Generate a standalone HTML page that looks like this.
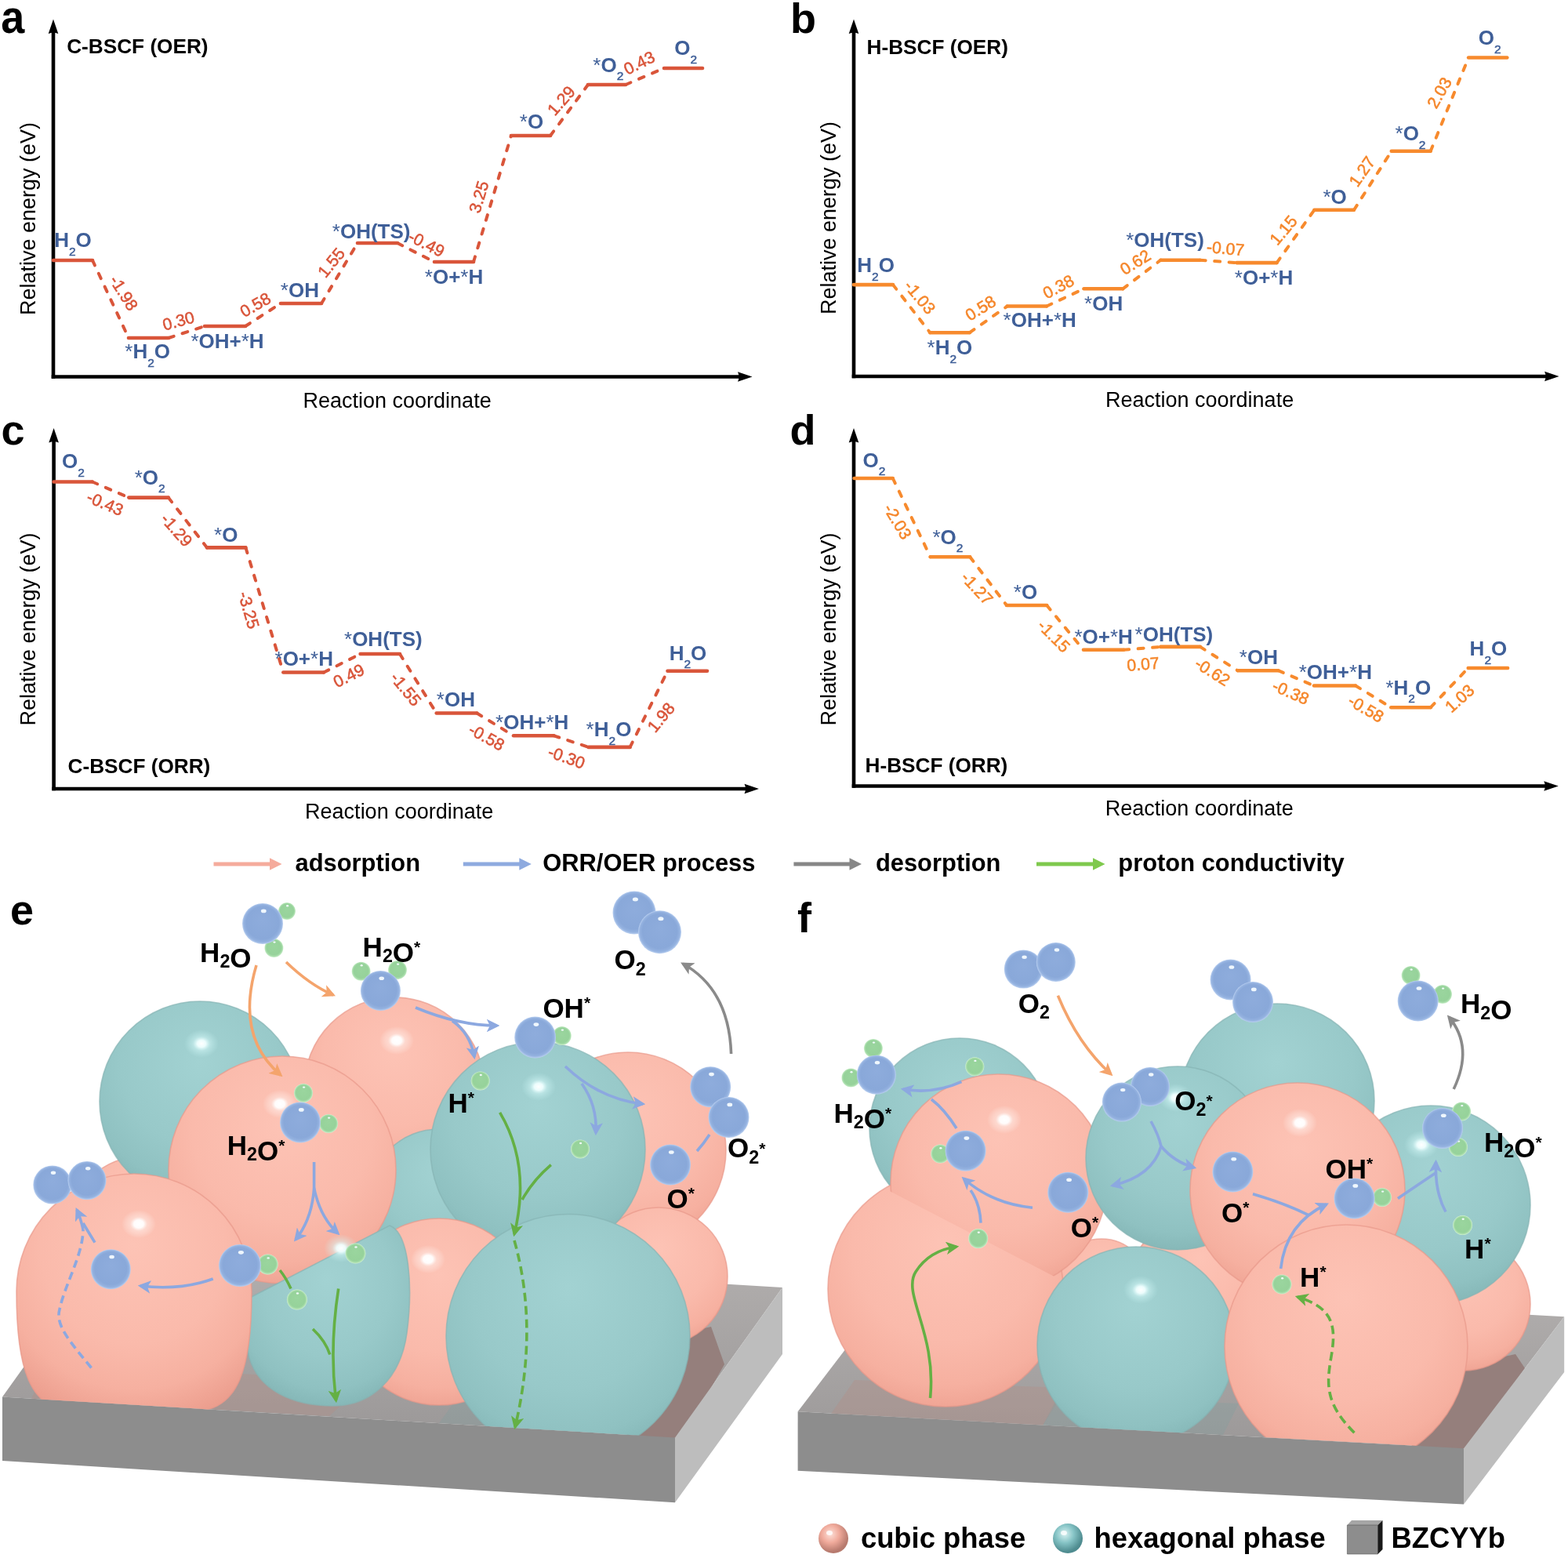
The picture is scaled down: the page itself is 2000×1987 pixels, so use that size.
<!DOCTYPE html>
<html><head><meta charset="utf-8"><title>Figure</title>
<style>html,body{margin:0;padding:0;background:#fff;overflow:hidden;} svg{display:block;}</style>
</head><body>
<svg width="2000" height="1987" viewBox="0 0 2000 1987" font-family="'Liberation Sans', Arial, Helvetica, sans-serif">
<defs>
<radialGradient id="gP" cx="0.5" cy="0.34" r="0.72" fx="0.5" fy="0.3">
  <stop offset="0" stop-color="#fdc3b5"/>
  <stop offset="0.55" stop-color="#fabaab"/>
  <stop offset="0.8" stop-color="#f6b0a0"/>
  <stop offset="1" stop-color="#ec9e8e"/>
</radialGradient>
<radialGradient id="gT" cx="0.5" cy="0.34" r="0.72" fx="0.5" fy="0.3">
  <stop offset="0" stop-color="#a2d2d2"/>
  <stop offset="0.55" stop-color="#98c9c9"/>
  <stop offset="0.8" stop-color="#8fc1c1"/>
  <stop offset="1" stop-color="#80b2b2"/>
</radialGradient>
<radialGradient id="gB" cx="0.5" cy="0.5" r="0.5" fx="0.5" fy="0.4">
  <stop offset="0" stop-color="#8eacdc"/>
  <stop offset="0.8" stop-color="#89a8d9"/>
  <stop offset="0.92" stop-color="#94b2e0"/>
  <stop offset="1" stop-color="#b9cff0"/>
</radialGradient>
<radialGradient id="gG" cx="0.5" cy="0.5" r="0.5" fx="0.5" fy="0.4">
  <stop offset="0" stop-color="#9ad59e"/>
  <stop offset="0.78" stop-color="#96d29a"/>
  <stop offset="0.92" stop-color="#aee0b0"/>
  <stop offset="1" stop-color="#d2f2d2"/>
</radialGradient>
<radialGradient id="gH" cx="0.5" cy="0.5" r="0.5">
  <stop offset="0" stop-color="#ffffff" stop-opacity="1"/>
  <stop offset="0.28" stop-color="#ffffff" stop-opacity="0.95"/>
  <stop offset="0.5" stop-color="#fff4f0" stop-opacity="0.45"/>
  <stop offset="1" stop-color="#ffffff" stop-opacity="0"/>
</radialGradient>
<radialGradient id="gHT" cx="0.5" cy="0.5" r="0.5">
  <stop offset="0" stop-color="#ffffff" stop-opacity="1"/>
  <stop offset="0.25" stop-color="#f0ffff" stop-opacity="0.95"/>
  <stop offset="0.5" stop-color="#d8fafa" stop-opacity="0.45"/>
  <stop offset="1" stop-color="#c8f4f4" stop-opacity="0"/>
</radialGradient>
<radialGradient id="gLP" cx="0.4" cy="0.35" r="0.6">
  <stop offset="0" stop-color="#fde0d8"/>
  <stop offset="0.5" stop-color="#f0aa9b"/>
  <stop offset="1" stop-color="#b77a6e"/>
</radialGradient>
<radialGradient id="gLT" cx="0.4" cy="0.35" r="0.6">
  <stop offset="0" stop-color="#d8f2f2"/>
  <stop offset="0.5" stop-color="#86c4c6"/>
  <stop offset="1" stop-color="#4f8c90"/>
</radialGradient>
<linearGradient id="gTopE" x1="0" y1="0" x2="0" y2="1">
  <stop offset="0" stop-color="#b3b0af"/>
  <stop offset="1" stop-color="#9b9898"/>
</linearGradient>
<marker id="mB" viewBox="0 0 10 10" refX="8" refY="5" markerWidth="4.6" markerHeight="4.6" orient="auto" markerUnits="strokeWidth"><path d="M0,0 L10,5 L0,10 L2.5,5Z" fill="#8ca8e0"/></marker>
<marker id="mO" viewBox="0 0 10 10" refX="8" refY="5" markerWidth="4.6" markerHeight="4.6" orient="auto" markerUnits="strokeWidth"><path d="M0,0 L10,5 L0,10 L2.5,5Z" fill="#f4a46c"/></marker>
<marker id="mG" viewBox="0 0 10 10" refX="8" refY="5" markerWidth="4.6" markerHeight="4.6" orient="auto" markerUnits="strokeWidth"><path d="M0,0 L10,5 L0,10 L2.5,5Z" fill="#64b044"/></marker>
<marker id="mY" viewBox="0 0 10 10" refX="8" refY="5" markerWidth="4.6" markerHeight="4.6" orient="auto" markerUnits="strokeWidth"><path d="M0,0 L10,5 L0,10 L2.5,5Z" fill="#8a8a8a"/></marker>
<clipPath id="clipE"><path d="M0,1100 L1000,1100 L1000,1841.8 L0,1781.4Z"/></clipPath>
<clipPath id="clipF"><path d="M1000,1100 L2000,1100 L2000,1854.5 L1000,1799.3Z"/></clipPath>
<clipPath id="clipE5"><path d="M250,1700 L317,1656 L497,1563 L560,1530 L560,1850 L250,1850Z"/></clipPath>
<clipPath id="clipF3"><path d="M1100,1300 L1450,1300 L1450,1660 L1355.8,1633.7 L1136.6,1520 L1100,1500Z"/></clipPath>
</defs>
<rect width="2000" height="1987" fill="#ffffff"/>
<line x1="68" y1="482.8" x2="68" y2="38.6" stroke="#000" stroke-width="4.6"/>
<path d="M61.7,43.1 L68,24.6 L74.3,43.1 Q68,40.1 61.7,43.1Z" fill="#000"/>
<line x1="65.7" y1="480.5" x2="945.5" y2="480.5" stroke="#000" stroke-width="4.6"/>
<path d="M941.0,474.2 L959.5,480.5 L941.0,486.8 Q944.0,480.5 941.0,474.2Z" fill="#000"/>
<line x1="1089" y1="482.3" x2="1089" y2="38.6" stroke="#000" stroke-width="4.6"/>
<path d="M1082.7,43.1 L1089,24.6 L1095.3,43.1 Q1089,40.1 1082.7,43.1Z" fill="#000"/>
<line x1="1086.7" y1="480" x2="1974.6" y2="480" stroke="#000" stroke-width="4.6"/>
<path d="M1970.1,473.7 L1988.6,480 L1970.1,486.3 Q1973.1,480 1970.1,473.7Z" fill="#000"/>
<line x1="68.6" y1="1008.3" x2="68.6" y2="559.9" stroke="#000" stroke-width="4.6"/>
<path d="M62.3,564.4 L68.6,545.9 L74.89999999999999,564.4 Q68.6,561.4 62.3,564.4Z" fill="#000"/>
<line x1="66.3" y1="1006" x2="954" y2="1006" stroke="#000" stroke-width="4.6"/>
<path d="M949.5,999.7 L968,1006 L949.5,1012.3 Q952.5,1006 949.5,999.7Z" fill="#000"/>
<line x1="1089" y1="1004.8" x2="1089" y2="559.9" stroke="#000" stroke-width="4.6"/>
<path d="M1082.7,564.4 L1089,545.9 L1095.3,564.4 Q1089,561.4 1082.7,564.4Z" fill="#000"/>
<line x1="1086.7" y1="1002.5" x2="1973.8" y2="1002.5" stroke="#000" stroke-width="4.6"/>
<path d="M1969.3,996.2 L1987.8,1002.5 L1969.3,1008.8 Q1972.3,1002.5 1969.3,996.2Z" fill="#000"/>
<line x1="68.0" y1="332.0" x2="118.0" y2="332.0" stroke="#d9553a" stroke-width="4.6" stroke-linecap="round"/>
<line x1="118.0" y1="332.0" x2="164.0" y2="431.0" stroke="#d9553a" stroke-width="4" stroke-dasharray="7 11.5" stroke-linecap="round"/>
<line x1="164.0" y1="431.0" x2="215.0" y2="431.0" stroke="#d9553a" stroke-width="4.6" stroke-linecap="round"/>
<line x1="215.0" y1="431.0" x2="261.0" y2="416.0" stroke="#d9553a" stroke-width="4" stroke-dasharray="7 11.5" stroke-linecap="round"/>
<line x1="261.0" y1="416.0" x2="313.0" y2="416.0" stroke="#d9553a" stroke-width="4.6" stroke-linecap="round"/>
<line x1="313.0" y1="416.0" x2="358.0" y2="387.0" stroke="#d9553a" stroke-width="4" stroke-dasharray="7 11.5" stroke-linecap="round"/>
<line x1="358.0" y1="387.0" x2="410.0" y2="387.0" stroke="#d9553a" stroke-width="4.6" stroke-linecap="round"/>
<line x1="410.0" y1="387.0" x2="456.0" y2="310.0" stroke="#d9553a" stroke-width="4" stroke-dasharray="7 11.5" stroke-linecap="round"/>
<line x1="456.0" y1="310.0" x2="507.0" y2="310.0" stroke="#d9553a" stroke-width="4.6" stroke-linecap="round"/>
<line x1="507.0" y1="310.0" x2="554.0" y2="334.0" stroke="#d9553a" stroke-width="4" stroke-dasharray="7 11.5" stroke-linecap="round"/>
<line x1="554.0" y1="334.0" x2="604.0" y2="334.0" stroke="#d9553a" stroke-width="4.6" stroke-linecap="round"/>
<line x1="604.0" y1="334.0" x2="652.0" y2="173.0" stroke="#d9553a" stroke-width="4" stroke-dasharray="7 11.5" stroke-linecap="round"/>
<line x1="652.0" y1="173.0" x2="702.0" y2="173.0" stroke="#d9553a" stroke-width="4.6" stroke-linecap="round"/>
<line x1="702.0" y1="173.0" x2="750.0" y2="108.0" stroke="#d9553a" stroke-width="4" stroke-dasharray="7 11.5" stroke-linecap="round"/>
<line x1="750.0" y1="108.0" x2="798.0" y2="108.0" stroke="#d9553a" stroke-width="4.6" stroke-linecap="round"/>
<line x1="798.0" y1="108.0" x2="847.0" y2="87.0" stroke="#d9553a" stroke-width="4" stroke-dasharray="7 11.5" stroke-linecap="round"/>
<line x1="847.0" y1="87.0" x2="896.0" y2="87.0" stroke="#d9553a" stroke-width="4.6" stroke-linecap="round"/>
<text x="69.2" y="315.0" font-size="26" font-weight="bold" fill="#3f5f98">H<tspan font-size="15.5" font-weight="normal" stroke="#3f5f98" stroke-width="0.5" dy="10.5">2</tspan><tspan dy="-10.5">O</tspan></text>
<text x="159.3" y="457.3" font-size="26" font-weight="bold" fill="#3f5f98"><tspan font-weight="normal">*</tspan>H<tspan font-size="15.5" font-weight="normal" stroke="#3f5f98" stroke-width="0.5" dy="10.5">2</tspan><tspan dy="-10.5">O</tspan></text>
<text x="243.4" y="443.6" font-size="26" font-weight="bold" fill="#3f5f98"><tspan font-weight="normal">*</tspan>OH+<tspan font-weight="normal">*</tspan>H</text>
<text x="357.8" y="378.8" font-size="26" font-weight="bold" fill="#3f5f98"><tspan font-weight="normal">*</tspan>OH</text>
<text x="423.8" y="303.5" font-size="26" font-weight="bold" fill="#3f5f98"><tspan font-weight="normal">*</tspan>OH(TS)</text>
<text x="541.8" y="361.8" font-size="26" font-weight="bold" fill="#3f5f98"><tspan font-weight="normal">*</tspan>O+<tspan font-weight="normal">*</tspan>H</text>
<text x="662.8" y="164.4" font-size="26" font-weight="bold" fill="#3f5f98"><tspan font-weight="normal">*</tspan>O</text>
<text x="756.3" y="91.8" font-size="26" font-weight="bold" fill="#3f5f98"><tspan font-weight="normal">*</tspan>O<tspan font-size="15.5" font-weight="normal" stroke="#3f5f98" stroke-width="0.5" dy="10.5">2</tspan></text>
<text x="860.3" y="70.2" font-size="26" font-weight="bold" fill="#3f5f98">O<tspan font-size="15.5" font-weight="normal" stroke="#3f5f98" stroke-width="0.5" dy="10.5">2</tspan></text>
<text class="en" transform="translate(158.1,373.4) rotate(57.5)" text-anchor="middle" dy="7.6" font-size="21.2" fill="#d9553a" stroke="#d9553a" stroke-width="0.55">-1.98</text>
<text class="en" transform="translate(227.5,409.0) rotate(-15.4)" text-anchor="middle" dy="7.6" font-size="21.2" fill="#d9553a" stroke="#d9553a" stroke-width="0.55">0.30</text>
<text class="en" transform="translate(325.6,388.5) rotate(-29.7)" text-anchor="middle" dy="7.6" font-size="21.2" fill="#d9553a" stroke="#d9553a" stroke-width="0.55">0.58</text>
<text class="en" transform="translate(422.3,334.7) rotate(-51)" text-anchor="middle" dy="7.6" font-size="21.2" fill="#d9553a" stroke="#d9553a" stroke-width="0.55">1.55</text>
<text class="en" transform="translate(544.2,310.6) rotate(27)" text-anchor="middle" dy="7.6" font-size="21.2" fill="#d9553a" stroke="#d9553a" stroke-width="0.55">-0.49</text>
<text class="en" transform="translate(610.5,251.0) rotate(-73)" text-anchor="middle" dy="7.6" font-size="21.2" fill="#d9553a" stroke="#d9553a" stroke-width="0.55">3.25</text>
<text class="en" transform="translate(715.6,128.2) rotate(-49)" text-anchor="middle" dy="7.6" font-size="21.2" fill="#d9553a" stroke="#d9553a" stroke-width="0.55">1.29</text>
<text class="en" transform="translate(815.3,80.0) rotate(-26.6)" text-anchor="middle" dy="7.6" font-size="21.2" fill="#d9553a" stroke="#d9553a" stroke-width="0.55">0.43</text>
<line x1="1089.0" y1="363.1" x2="1139.0" y2="363.1" stroke="#f78a2d" stroke-width="4.6" stroke-linecap="round"/>
<line x1="1139.0" y1="363.1" x2="1186.3" y2="424.2" stroke="#f78a2d" stroke-width="4" stroke-dasharray="7 11.5" stroke-linecap="round"/>
<line x1="1186.3" y1="424.2" x2="1236.8" y2="424.2" stroke="#f78a2d" stroke-width="4.6" stroke-linecap="round"/>
<line x1="1236.8" y1="424.2" x2="1284.7" y2="390.5" stroke="#f78a2d" stroke-width="4" stroke-dasharray="7 11.5" stroke-linecap="round"/>
<line x1="1284.7" y1="390.5" x2="1335.0" y2="390.5" stroke="#f78a2d" stroke-width="4.6" stroke-linecap="round"/>
<line x1="1335.0" y1="390.5" x2="1382.5" y2="368.3" stroke="#f78a2d" stroke-width="4" stroke-dasharray="7 11.5" stroke-linecap="round"/>
<line x1="1382.5" y1="368.3" x2="1432.2" y2="368.3" stroke="#f78a2d" stroke-width="4.6" stroke-linecap="round"/>
<line x1="1432.2" y1="368.3" x2="1480.5" y2="331.7" stroke="#f78a2d" stroke-width="4" stroke-dasharray="7 11.5" stroke-linecap="round"/>
<line x1="1480.5" y1="331.7" x2="1530.7" y2="331.7" stroke="#f78a2d" stroke-width="4.6" stroke-linecap="round"/>
<line x1="1530.7" y1="331.7" x2="1577.3" y2="335.1" stroke="#f78a2d" stroke-width="4" stroke-dasharray="7 11.5" stroke-linecap="round"/>
<line x1="1577.3" y1="335.1" x2="1628.6" y2="335.1" stroke="#f78a2d" stroke-width="4.6" stroke-linecap="round"/>
<line x1="1628.6" y1="335.1" x2="1676.4" y2="267.8" stroke="#f78a2d" stroke-width="4" stroke-dasharray="7 11.5" stroke-linecap="round"/>
<line x1="1676.4" y1="267.8" x2="1727.0" y2="267.8" stroke="#f78a2d" stroke-width="4.6" stroke-linecap="round"/>
<line x1="1727.0" y1="267.8" x2="1774.8" y2="192.8" stroke="#f78a2d" stroke-width="4" stroke-dasharray="7 11.5" stroke-linecap="round"/>
<line x1="1774.8" y1="192.8" x2="1824.7" y2="192.8" stroke="#f78a2d" stroke-width="4.6" stroke-linecap="round"/>
<line x1="1824.7" y1="192.8" x2="1873.1" y2="73.5" stroke="#f78a2d" stroke-width="4" stroke-dasharray="7 11.5" stroke-linecap="round"/>
<line x1="1873.1" y1="73.5" x2="1922.3" y2="73.5" stroke="#f78a2d" stroke-width="4.6" stroke-linecap="round"/>
<text x="1093.3" y="347.1" font-size="26" font-weight="bold" fill="#3f5f98">H<tspan font-size="15.5" font-weight="normal" stroke="#3f5f98" stroke-width="0.5" dy="10.5">2</tspan><tspan dy="-10.5">O</tspan></text>
<text x="1182.5" y="452.1" font-size="26" font-weight="bold" fill="#3f5f98"><tspan font-weight="normal">*</tspan>H<tspan font-size="15.5" font-weight="normal" stroke="#3f5f98" stroke-width="0.5" dy="10.5">2</tspan><tspan dy="-10.5">O</tspan></text>
<text x="1279.6" y="417.2" font-size="26" font-weight="bold" fill="#3f5f98"><tspan font-weight="normal">*</tspan>OH+<tspan font-weight="normal">*</tspan>H</text>
<text x="1383.1" y="395.8" font-size="26" font-weight="bold" fill="#3f5f98"><tspan font-weight="normal">*</tspan>OH</text>
<text x="1436.2" y="315.0" font-size="26" font-weight="bold" fill="#3f5f98"><tspan font-weight="normal">*</tspan>OH(TS)</text>
<text x="1574.8" y="362.5" font-size="26" font-weight="bold" fill="#3f5f98"><tspan font-weight="normal">*</tspan>O+<tspan font-weight="normal">*</tspan>H</text>
<text x="1687.4" y="259.8" font-size="26" font-weight="bold" fill="#3f5f98"><tspan font-weight="normal">*</tspan>O</text>
<text x="1779.5" y="179.4" font-size="26" font-weight="bold" fill="#3f5f98"><tspan font-weight="normal">*</tspan>O<tspan font-size="15.5" font-weight="normal" stroke="#3f5f98" stroke-width="0.5" dy="10.5">2</tspan></text>
<text x="1885.7" y="57.2" font-size="26" font-weight="bold" fill="#3f5f98">O<tspan font-size="15.5" font-weight="normal" stroke="#3f5f98" stroke-width="0.5" dy="10.5">2</tspan></text>
<text class="en" transform="translate(1173.5,378.9) rotate(49.8)" text-anchor="middle" dy="7.6" font-size="21.2" fill="#f5872c" stroke="#f5872c" stroke-width="0.55">-1.03</text>
<text class="en" transform="translate(1250.6,392.6) rotate(-31.6)" text-anchor="middle" dy="7.6" font-size="21.2" fill="#f5872c" stroke="#f5872c" stroke-width="0.55">0.58</text>
<text class="en" transform="translate(1349.8,365.4) rotate(-27.4)" text-anchor="middle" dy="7.6" font-size="21.2" fill="#f5872c" stroke="#f5872c" stroke-width="0.55">0.38</text>
<text class="en" transform="translate(1447.9,334.2) rotate(-32)" text-anchor="middle" dy="7.6" font-size="21.2" fill="#f5872c" stroke="#f5872c" stroke-width="0.55">0.62</text>
<text class="en" transform="translate(1563.2,316.5) rotate(5)" text-anchor="middle" dy="7.6" font-size="21.2" fill="#f5872c" stroke="#f5872c" stroke-width="0.55">-0.07</text>
<text class="en" transform="translate(1636.8,293.4) rotate(-50)" text-anchor="middle" dy="7.6" font-size="21.2" fill="#f5872c" stroke="#f5872c" stroke-width="0.55">1.15</text>
<text class="en" transform="translate(1737.0,218.5) rotate(-55)" text-anchor="middle" dy="7.6" font-size="21.2" fill="#f5872c" stroke="#f5872c" stroke-width="0.55">1.27</text>
<text class="en" transform="translate(1835.7,118.1) rotate(-60)" text-anchor="middle" dy="7.6" font-size="21.2" fill="#f5872c" stroke="#f5872c" stroke-width="0.55">2.03</text>
<line x1="68.6" y1="614.5" x2="117.8" y2="614.5" stroke="#d9553a" stroke-width="4.6" stroke-linecap="round"/>
<line x1="117.8" y1="614.5" x2="164.3" y2="634.6" stroke="#d9553a" stroke-width="4" stroke-dasharray="7 11.5" stroke-linecap="round"/>
<line x1="164.3" y1="634.6" x2="214.8" y2="634.6" stroke="#d9553a" stroke-width="4.6" stroke-linecap="round"/>
<line x1="214.8" y1="634.6" x2="264.0" y2="698.4" stroke="#d9553a" stroke-width="4" stroke-dasharray="7 11.5" stroke-linecap="round"/>
<line x1="264.0" y1="698.4" x2="313.4" y2="698.4" stroke="#d9553a" stroke-width="4.6" stroke-linecap="round"/>
<line x1="313.4" y1="698.4" x2="361.3" y2="857.5" stroke="#d9553a" stroke-width="4" stroke-dasharray="7 11.5" stroke-linecap="round"/>
<line x1="361.3" y1="857.5" x2="413.0" y2="857.5" stroke="#d9553a" stroke-width="4.6" stroke-linecap="round"/>
<line x1="413.0" y1="857.5" x2="459.6" y2="834.0" stroke="#d9553a" stroke-width="4" stroke-dasharray="7 11.5" stroke-linecap="round"/>
<line x1="459.6" y1="834.0" x2="510.0" y2="834.0" stroke="#d9553a" stroke-width="4.6" stroke-linecap="round"/>
<line x1="510.0" y1="834.0" x2="556.7" y2="909.5" stroke="#d9553a" stroke-width="4" stroke-dasharray="7 11.5" stroke-linecap="round"/>
<line x1="556.7" y1="909.5" x2="608.3" y2="909.5" stroke="#d9553a" stroke-width="4.6" stroke-linecap="round"/>
<line x1="608.3" y1="909.5" x2="655.0" y2="938.3" stroke="#d9553a" stroke-width="4" stroke-dasharray="7 11.5" stroke-linecap="round"/>
<line x1="655.0" y1="938.3" x2="706.6" y2="938.3" stroke="#d9553a" stroke-width="4.6" stroke-linecap="round"/>
<line x1="706.6" y1="938.3" x2="750.6" y2="952.9" stroke="#d9553a" stroke-width="4" stroke-dasharray="7 11.5" stroke-linecap="round"/>
<line x1="750.6" y1="952.9" x2="803.6" y2="952.9" stroke="#d9553a" stroke-width="4.6" stroke-linecap="round"/>
<line x1="803.6" y1="952.9" x2="851.5" y2="855.8" stroke="#d9553a" stroke-width="4" stroke-dasharray="7 11.5" stroke-linecap="round"/>
<line x1="851.5" y1="855.8" x2="902.0" y2="855.8" stroke="#d9553a" stroke-width="4.6" stroke-linecap="round"/>
<text x="79.0" y="597.1" font-size="26" font-weight="bold" fill="#3f5f98">O<tspan font-size="15.5" font-weight="normal" stroke="#3f5f98" stroke-width="0.5" dy="10.5">2</tspan></text>
<text x="171.7" y="617.8" font-size="26" font-weight="bold" fill="#3f5f98"><tspan font-weight="normal">*</tspan>O<tspan font-size="15.5" font-weight="normal" stroke="#3f5f98" stroke-width="0.5" dy="10.5">2</tspan></text>
<text x="273.1" y="691.1" font-size="26" font-weight="bold" fill="#3f5f98"><tspan font-weight="normal">*</tspan>O</text>
<text x="350.5" y="848.5" font-size="26" font-weight="bold" fill="#3f5f98"><tspan font-weight="normal">*</tspan>O+<tspan font-weight="normal">*</tspan>H</text>
<text x="439.0" y="824.4" font-size="26" font-weight="bold" fill="#3f5f98"><tspan font-weight="normal">*</tspan>OH(TS)</text>
<text x="556.8" y="901.3" font-size="26" font-weight="bold" fill="#3f5f98"><tspan font-weight="normal">*</tspan>OH</text>
<text x="632.1" y="929.6" font-size="26" font-weight="bold" fill="#3f5f98"><tspan font-weight="normal">*</tspan>OH+<tspan font-weight="normal">*</tspan>H</text>
<text x="747.6" y="939.2" font-size="26" font-weight="bold" fill="#3f5f98"><tspan font-weight="normal">*</tspan>H<tspan font-size="15.5" font-weight="normal" stroke="#3f5f98" stroke-width="0.5" dy="10.5">2</tspan><tspan dy="-10.5">O</tspan></text>
<text x="853.7" y="841.6" font-size="26" font-weight="bold" fill="#3f5f98">H<tspan font-size="15.5" font-weight="normal" stroke="#3f5f98" stroke-width="0.5" dy="10.5">2</tspan><tspan dy="-10.5">O</tspan></text>
<text class="en" transform="translate(134.1,641.8) rotate(23)" text-anchor="middle" dy="7.6" font-size="21.2" fill="#d9553a" stroke="#d9553a" stroke-width="0.55">-0.43</text>
<text class="en" transform="translate(225.4,675.7) rotate(48.5)" text-anchor="middle" dy="7.6" font-size="21.2" fill="#d9553a" stroke="#d9553a" stroke-width="0.55">-1.29</text>
<text class="en" transform="translate(317.6,778.1) rotate(74)" text-anchor="middle" dy="7.6" font-size="21.2" fill="#d9553a" stroke="#d9553a" stroke-width="0.55">-3.25</text>
<text class="en" transform="translate(444.8,861.4) rotate(-26.6)" text-anchor="middle" dy="7.6" font-size="21.2" fill="#d9553a" stroke="#d9553a" stroke-width="0.55">0.49</text>
<text class="en" transform="translate(517.8,878.6) rotate(50.8)" text-anchor="middle" dy="7.6" font-size="21.2" fill="#d9553a" stroke="#d9553a" stroke-width="0.55">-1.55</text>
<text class="en" transform="translate(620.8,939.9) rotate(28.7)" text-anchor="middle" dy="7.6" font-size="21.2" fill="#d9553a" stroke="#d9553a" stroke-width="0.55">-0.58</text>
<text class="en" transform="translate(722.7,965.6) rotate(19.4)" text-anchor="middle" dy="7.6" font-size="21.2" fill="#d9553a" stroke="#d9553a" stroke-width="0.55">-0.30</text>
<text class="en" transform="translate(843.0,914.7) rotate(-50.7)" text-anchor="middle" dy="7.6" font-size="21.2" fill="#d9553a" stroke="#d9553a" stroke-width="0.55">1.98</text>
<line x1="1089.6" y1="610.0" x2="1138.8" y2="610.0" stroke="#f78a2d" stroke-width="4.6" stroke-linecap="round"/>
<line x1="1138.8" y1="610.0" x2="1186.7" y2="710.2" stroke="#f78a2d" stroke-width="4" stroke-dasharray="7 11.5" stroke-linecap="round"/>
<line x1="1186.7" y1="710.2" x2="1237.2" y2="710.2" stroke="#f78a2d" stroke-width="4.6" stroke-linecap="round"/>
<line x1="1237.2" y1="710.2" x2="1284.0" y2="772.0" stroke="#f78a2d" stroke-width="4" stroke-dasharray="7 11.5" stroke-linecap="round"/>
<line x1="1284.0" y1="772.0" x2="1335.2" y2="772.0" stroke="#f78a2d" stroke-width="4.6" stroke-linecap="round"/>
<line x1="1335.2" y1="772.0" x2="1382.0" y2="828.8" stroke="#f78a2d" stroke-width="4" stroke-dasharray="7 11.5" stroke-linecap="round"/>
<line x1="1382.0" y1="828.8" x2="1433.2" y2="828.8" stroke="#f78a2d" stroke-width="4.6" stroke-linecap="round"/>
<line x1="1433.2" y1="828.8" x2="1480.3" y2="824.9" stroke="#f78a2d" stroke-width="4" stroke-dasharray="7 11.5" stroke-linecap="round"/>
<line x1="1480.3" y1="824.9" x2="1530.8" y2="824.9" stroke="#f78a2d" stroke-width="4.6" stroke-linecap="round"/>
<line x1="1530.8" y1="824.9" x2="1578.7" y2="855.2" stroke="#f78a2d" stroke-width="4" stroke-dasharray="7 11.5" stroke-linecap="round"/>
<line x1="1578.7" y1="855.2" x2="1630.4" y2="855.2" stroke="#f78a2d" stroke-width="4.6" stroke-linecap="round"/>
<line x1="1630.4" y1="855.2" x2="1676.0" y2="874.5" stroke="#f78a2d" stroke-width="4" stroke-dasharray="7 11.5" stroke-linecap="round"/>
<line x1="1676.0" y1="874.5" x2="1729.0" y2="874.5" stroke="#f78a2d" stroke-width="4.6" stroke-linecap="round"/>
<line x1="1729.0" y1="874.5" x2="1774.3" y2="902.2" stroke="#f78a2d" stroke-width="4" stroke-dasharray="7 11.5" stroke-linecap="round"/>
<line x1="1774.3" y1="902.2" x2="1824.8" y2="902.2" stroke="#f78a2d" stroke-width="4.6" stroke-linecap="round"/>
<line x1="1824.8" y1="902.2" x2="1872.7" y2="852.0" stroke="#f78a2d" stroke-width="4" stroke-dasharray="7 11.5" stroke-linecap="round"/>
<line x1="1872.7" y1="852.0" x2="1923.1" y2="852.0" stroke="#f78a2d" stroke-width="4.6" stroke-linecap="round"/>
<text x="1100.6" y="595.8" font-size="26" font-weight="bold" fill="#3f5f98">O<tspan font-size="15.5" font-weight="normal" stroke="#3f5f98" stroke-width="0.5" dy="10.5">2</tspan></text>
<text x="1189.4" y="693.7" font-size="26" font-weight="bold" fill="#3f5f98"><tspan font-weight="normal">*</tspan>O<tspan font-size="15.5" font-weight="normal" stroke="#3f5f98" stroke-width="0.5" dy="10.5">2</tspan></text>
<text x="1292.8" y="764.1" font-size="26" font-weight="bold" fill="#3f5f98"><tspan font-weight="normal">*</tspan>O</text>
<text x="1370.4" y="821.0" font-size="26" font-weight="bold" fill="#3f5f98"><tspan font-weight="normal">*</tspan>O+<tspan font-weight="normal">*</tspan>H</text>
<text x="1447.6" y="817.9" font-size="26" font-weight="bold" fill="#3f5f98"><tspan font-weight="normal">*</tspan>OH(TS)</text>
<text x="1580.8" y="847.4" font-size="26" font-weight="bold" fill="#3f5f98"><tspan font-weight="normal">*</tspan>OH</text>
<text x="1656.7" y="865.7" font-size="26" font-weight="bold" fill="#3f5f98"><tspan font-weight="normal">*</tspan>OH+<tspan font-weight="normal">*</tspan>H</text>
<text x="1767.4" y="885.6" font-size="26" font-weight="bold" fill="#3f5f98"><tspan font-weight="normal">*</tspan>H<tspan font-size="15.5" font-weight="normal" stroke="#3f5f98" stroke-width="0.5" dy="10.5">2</tspan><tspan dy="-10.5">O</tspan></text>
<text x="1874.6" y="836.4" font-size="26" font-weight="bold" fill="#3f5f98">H<tspan font-size="15.5" font-weight="normal" stroke="#3f5f98" stroke-width="0.5" dy="10.5">2</tspan><tspan dy="-10.5">O</tspan></text>
<text class="en" transform="translate(1145.1,664.9) rotate(59)" text-anchor="middle" dy="7.6" font-size="21.2" fill="#f5872c" stroke="#f5872c" stroke-width="0.55">-2.03</text>
<text class="en" transform="translate(1246.5,750.1) rotate(47.4)" text-anchor="middle" dy="7.6" font-size="21.2" fill="#f5872c" stroke="#f5872c" stroke-width="0.55">-1.27</text>
<text class="en" transform="translate(1344.5,811.0) rotate(45)" text-anchor="middle" dy="7.6" font-size="21.2" fill="#f5872c" stroke="#f5872c" stroke-width="0.55">-1.15</text>
<text class="en" transform="translate(1458.0,846.7) rotate(-5)" text-anchor="middle" dy="7.6" font-size="21.2" fill="#f5872c" stroke="#f5872c" stroke-width="0.55">0.07</text>
<text class="en" transform="translate(1546.6,856.5) rotate(32.3)" text-anchor="middle" dy="7.6" font-size="21.2" fill="#f5872c" stroke="#f5872c" stroke-width="0.55">-0.62</text>
<text class="en" transform="translate(1646.5,882.7) rotate(23.6)" text-anchor="middle" dy="7.6" font-size="21.2" fill="#f5872c" stroke="#f5872c" stroke-width="0.55">-0.38</text>
<text class="en" transform="translate(1742.5,903.5) rotate(30.4)" text-anchor="middle" dy="7.6" font-size="21.2" fill="#f5872c" stroke="#f5872c" stroke-width="0.55">-0.58</text>
<text class="en" transform="translate(1861.5,890.5) rotate(-42)" text-anchor="middle" dy="7.6" font-size="21.2" fill="#f5872c" stroke="#f5872c" stroke-width="0.55">1.03</text>
<text x="85.2" y="67.8" font-size="26.2" font-weight="bold" fill="#000">C-BSCF (OER)</text>
<text x="1105.5" y="68.6" font-size="26.2" font-weight="bold" fill="#000">H-BSCF (OER)</text>
<text x="86.5" y="986.2" font-size="26.2" font-weight="bold" fill="#000">C-BSCF (ORR)</text>
<text x="1103.5" y="985.3" font-size="26.2" font-weight="bold" fill="#000">H-BSCF (ORR)</text>
<text x="386.5" y="519.6" font-size="27" fill="#000">Reaction coordinate</text>
<text x="1410.0" y="518.7" font-size="27" fill="#000">Reaction coordinate</text>
<text x="389.1" y="1044.2" font-size="27" fill="#000">Reaction coordinate</text>
<text x="1409.7" y="1039.6" font-size="27" fill="#000">Reaction coordinate</text>
<text transform="translate(44.5,279) rotate(-90)" text-anchor="middle" font-size="27" fill="#000">Relative energy (eV)</text>
<text transform="translate(1065.5,278) rotate(-90)" text-anchor="middle" font-size="27" fill="#000">Relative energy (eV)</text>
<text transform="translate(44.5,802.5) rotate(-90)" text-anchor="middle" font-size="27" fill="#000">Relative energy (eV)</text>
<text transform="translate(1065.5,802.5) rotate(-90)" text-anchor="middle" font-size="27" fill="#000">Relative energy (eV)</text>
<text transform="translate(1.3,42) scale(1,1.11)" x="0" y="0" font-size="54" font-weight="bold" fill="#000">a</text>
<text x="1008" y="42.4" font-size="54" font-weight="bold" fill="#000">b</text>
<text x="1.5" y="567.2" font-size="54" font-weight="bold" fill="#000">c</text>
<text x="1007.5" y="567.2" font-size="54" font-weight="bold" fill="#000">d</text>
<line x1="272.5" y1="1102" x2="345.5" y2="1102" stroke="#f5ab9c" stroke-width="5.2"/>
<path d="M344.0,1094.2 L359.5,1102 L344.0,1109.8Z" fill="#f5ab9c"/>
<line x1="590.8" y1="1102" x2="663.8" y2="1102" stroke="#8eaadf" stroke-width="5.2"/>
<path d="M662.3,1094.2 L677.8,1102 L662.3,1109.8Z" fill="#8eaadf"/>
<line x1="1012.4" y1="1102" x2="1085" y2="1102" stroke="#878787" stroke-width="5.2"/>
<path d="M1083.5,1094.2 L1099,1102 L1083.5,1109.8Z" fill="#878787"/>
<line x1="1322" y1="1102" x2="1395.5" y2="1102" stroke="#7fc94d" stroke-width="5.2"/>
<path d="M1394.0,1094.2 L1409.5,1102 L1394.0,1109.8Z" fill="#7fc94d"/>
<text x="376.5" y="1110.5" font-size="30.9" font-weight="bold" fill="#000">adsorption</text>
<text x="692.2" y="1110.5" font-size="30.9" font-weight="bold" fill="#000">ORR/OER process</text>
<text x="1116.9" y="1110.5" font-size="30.9" font-weight="bold" fill="#000">desorption</text>
<text x="1426.3" y="1110.5" font-size="30.9" font-weight="bold" fill="#000">proton conductivity</text>
<circle cx="1063" cy="1962" r="19" fill="url(#gLP)"/>
<ellipse cx="1058" cy="1955" rx="4" ry="3" fill="#fff" opacity="0.8"/>
<circle cx="1362" cy="1962" r="19" fill="url(#gLT)"/>
<ellipse cx="1357" cy="1955" rx="4" ry="3" fill="#fff" opacity="0.8"/>
<path d="M1718.4,1945 L1724,1939 L1763.5,1939 L1757.5,1945Z" fill="#a6a6a6"/>
<path d="M1718.4,1945 L1757.5,1945 L1757.5,1982 L1718.4,1982Z" fill="#8d8d8d" stroke="#555" stroke-width="0.6"/>
<path d="M1757.5,1945 L1763.5,1939 L1763.5,1976 L1757.5,1982Z" fill="#1a1a1a"/>
<text x="1097.9" y="1974.4" font-size="36.4" font-weight="bold" fill="#000">cubic phase</text>
<text x="1395.5" y="1974.4" font-size="36.4" font-weight="bold" fill="#000">hexagonal phase</text>
<text x="1774.4" y="1974.4" font-size="36.4" font-weight="bold" fill="#000">BZCYYb</text>
<path d="M3,1781.6 L861,1833.4 L998,1642 L140,1590Z" fill="url(#gTopE)"/>
<path d="M40,1784 L420,1806 L470,1760 L60,1740Z" fill="#b58c85" opacity="0.35"/>
<path d="M560,1815 L860,1833 L900,1778 L600,1760Z" fill="#7fa09e" opacity="0.3"/>
<path d="M850,1705 L907,1692 L924,1740 L890,1800 L866,1836 L800,1830 L830,1760Z" fill="#957f7c"/>
<path d="M3,1781.6 L861,1833.4 L861,1916.2 L3,1863Z" fill="#8d8d8d"/>
<path d="M861,1833.4 L998,1642 L998,1727 L861,1916.2Z" fill="#bdbdbd"/>
<g clip-path="url(#clipE)">
<circle cx="180" cy="1565" r="90" fill="url(#gP)" stroke="#e8998a" stroke-width="1.6" stroke-opacity="0.7"/>
<circle cx="255" cy="1405" r="128" fill="url(#gT)" stroke="#86b4b4" stroke-width="1.6" stroke-opacity="0.7"/><ellipse cx="257" cy="1331" rx="22" ry="18" fill="url(#gHT)"/>
<circle cx="503" cy="1387" r="115" fill="url(#gP)" stroke="#e8998a" stroke-width="1.6" stroke-opacity="0.7"/><ellipse cx="506" cy="1327" rx="22" ry="18" fill="url(#gH)"/>
<circle cx="560" cy="1530" r="90" fill="url(#gT)" stroke="#86b4b4" stroke-width="1.6" stroke-opacity="0.7"/>
<circle cx="801" cy="1467" r="125" fill="url(#gP)" stroke="#e8998a" stroke-width="1.6" stroke-opacity="0.7"/>
<circle cx="840" cy="1628" r="88" fill="url(#gP)" stroke="#e8998a" stroke-width="1.6" stroke-opacity="0.7"/>
<circle cx="686" cy="1466" r="137" fill="url(#gT)" stroke="#86b4b4" stroke-width="1.6" stroke-opacity="0.7"/><ellipse cx="687" cy="1386" rx="22" ry="18" fill="url(#gHT)"/>
<circle cx="360" cy="1492" r="145" fill="url(#gP)" stroke="#e8998a" stroke-width="1.6" stroke-opacity="0.7"/><ellipse cx="357" cy="1408" rx="22" ry="18" fill="url(#gH)"/>
<circle cx="560" cy="1673" r="119" fill="url(#gP)" stroke="#e8998a" stroke-width="1.6" stroke-opacity="0.7"/><ellipse cx="546" cy="1606" rx="22" ry="18" fill="url(#gH)"/>
<path d="M317,1656 L497,1563 C522,1572 527,1640 519,1700 C511,1760 472,1793 425,1793 C372,1793 330,1772 318,1732 C311,1705 311,1675 317,1656Z" fill="url(#gT)" stroke="#86b4b4" stroke-width="1.6" stroke-opacity="0.7"/>
<ellipse cx="435" cy="1592" rx="22" ry="18" fill="url(#gHT)"/>
<path d="M21,1647 A150,150 0 0 1 321,1647 C321,1741.9 306.0,1800 246.0,1800 L96.0,1800 C36.0,1800 21,1741.9 21,1647Z" fill="url(#gP)" stroke="#e8998a" stroke-width="1.6" stroke-opacity="0.7"/><ellipse cx="177" cy="1561" rx="22" ry="18" fill="url(#gH)"/>
<circle cx="724.5" cy="1704" r="155.5" fill="url(#gT)" stroke="#86b4b4" stroke-width="1.6" stroke-opacity="0.7"/>
</g>
<circle cx="366" cy="1162" r="11" fill="url(#gG)"/><ellipse cx="366.6" cy="1155.2" rx="1.6" ry="1.2" fill="#f4fbff" opacity="0.95"/>
<circle cx="349.4" cy="1209" r="12" fill="url(#gG)"/><ellipse cx="350.0" cy="1201.6" rx="1.6" ry="1.2" fill="#f4fbff" opacity="0.95"/>
<circle cx="335" cy="1178" r="26" fill="url(#gB)"/><ellipse cx="336.3" cy="1161.9" rx="3.4" ry="2.3" fill="#f4fbff" opacity="0.95"/>
<circle cx="460.6" cy="1238.7" r="12" fill="url(#gG)"/><ellipse cx="461.2" cy="1231.3" rx="1.6" ry="1.2" fill="#f4fbff" opacity="0.95"/>
<circle cx="507" cy="1237" r="12" fill="url(#gG)"/><ellipse cx="507.6" cy="1229.6" rx="1.6" ry="1.2" fill="#f4fbff" opacity="0.95"/>
<circle cx="485.4" cy="1263.5" r="25.5" fill="url(#gB)"/><ellipse cx="486.7" cy="1247.7" rx="3.3" ry="2.3" fill="#f4fbff" opacity="0.95"/>
<circle cx="716.8" cy="1321" r="12" fill="url(#gG)"/><ellipse cx="717.4" cy="1313.6" rx="1.6" ry="1.2" fill="#f4fbff" opacity="0.95"/>
<circle cx="682.6" cy="1323" r="26.4" fill="url(#gB)"/><ellipse cx="683.9" cy="1306.6" rx="3.4" ry="2.4" fill="#f4fbff" opacity="0.95"/>
<circle cx="809" cy="1164" r="27.5" fill="url(#gB)"/><ellipse cx="810.4" cy="1147.0" rx="3.6" ry="2.5" fill="#f4fbff" opacity="0.95"/>
<circle cx="841.5" cy="1188.7" r="27.5" fill="url(#gB)"/><ellipse cx="842.9" cy="1171.7" rx="3.6" ry="2.5" fill="#f4fbff" opacity="0.95"/>
<circle cx="612.7" cy="1378.4" r="12" fill="url(#gG)"/><ellipse cx="613.3" cy="1371.0" rx="1.6" ry="1.2" fill="#f4fbff" opacity="0.95"/>
<circle cx="740" cy="1465.4" r="12" fill="url(#gG)"/><ellipse cx="740.6" cy="1458.0" rx="1.6" ry="1.2" fill="#f4fbff" opacity="0.95"/>
<circle cx="906.2" cy="1386.2" r="26" fill="url(#gB)"/><ellipse cx="907.5" cy="1370.1" rx="3.4" ry="2.3" fill="#f4fbff" opacity="0.95"/>
<circle cx="929.5" cy="1425" r="26" fill="url(#gB)"/><ellipse cx="930.8" cy="1408.9" rx="3.4" ry="2.3" fill="#f4fbff" opacity="0.95"/>
<circle cx="855" cy="1485.6" r="26" fill="url(#gB)"/><ellipse cx="856.3" cy="1469.5" rx="3.4" ry="2.3" fill="#f4fbff" opacity="0.95"/>
<circle cx="387" cy="1394" r="12" fill="url(#gG)"/><ellipse cx="387.6" cy="1386.6" rx="1.6" ry="1.2" fill="#f4fbff" opacity="0.95"/>
<circle cx="419" cy="1433" r="12" fill="url(#gG)"/><ellipse cx="419.6" cy="1425.6" rx="1.6" ry="1.2" fill="#f4fbff" opacity="0.95"/>
<circle cx="383" cy="1431.5" r="26" fill="url(#gB)"/><ellipse cx="384.3" cy="1415.4" rx="3.4" ry="2.3" fill="#f4fbff" opacity="0.95"/>
<circle cx="66.8" cy="1511" r="24.5" fill="url(#gB)"/><ellipse cx="68.0" cy="1495.8" rx="3.2" ry="2.2" fill="#f4fbff" opacity="0.95"/>
<circle cx="111" cy="1505.5" r="24.5" fill="url(#gB)"/><ellipse cx="112.2" cy="1490.3" rx="3.2" ry="2.2" fill="#f4fbff" opacity="0.95"/>
<circle cx="141.3" cy="1618.8" r="25.5" fill="url(#gB)"/><ellipse cx="142.6" cy="1603.0" rx="3.3" ry="2.3" fill="#f4fbff" opacity="0.95"/>
<circle cx="341.6" cy="1612.5" r="13" fill="url(#gG)"/><ellipse cx="342.2" cy="1604.4" rx="1.7" ry="1.2" fill="#f4fbff" opacity="0.95"/>
<circle cx="306" cy="1614" r="27" fill="url(#gB)"/><ellipse cx="307.4" cy="1597.3" rx="3.5" ry="2.4" fill="#f4fbff" opacity="0.95"/>
<circle cx="453.4" cy="1598.6" r="13" fill="url(#gG)"/><ellipse cx="454.0" cy="1590.5" rx="1.7" ry="1.2" fill="#f4fbff" opacity="0.95"/>
<circle cx="378.9" cy="1657.6" r="13" fill="url(#gG)"/><ellipse cx="379.5" cy="1649.5" rx="1.7" ry="1.2" fill="#f4fbff" opacity="0.95"/>
<path d="M327,1231 Q300,1322 358,1371" fill="none" stroke="#f4a46c" stroke-width="3.6" stroke-linecap="butt" marker-end="url(#mO)"/>
<path d="M365,1227 Q395,1256 425,1269" fill="none" stroke="#f4a46c" stroke-width="3.6" stroke-linecap="butt" marker-end="url(#mO)"/>
<path d="M530,1285 Q585,1308 634,1308" fill="none" stroke="#8ca8e0" stroke-width="3.6" stroke-linecap="butt" marker-end="url(#mB)"/>
<path d="M577,1302 Q600,1318 605,1348" fill="none" stroke="#8ca8e0" stroke-width="3.6" stroke-linecap="butt" marker-end="url(#mB)"/>
<path d="M721,1360 Q765,1402 820,1408" fill="none" stroke="#8ca8e0" stroke-width="3.6" stroke-linecap="butt" marker-end="url(#mB)"/>
<path d="M742,1382 Q762,1410 760,1445" fill="none" stroke="#8ca8e0" stroke-width="3.6" stroke-linecap="butt" marker-end="url(#mB)"/>
<path d="M889,1468 Q898,1458 905,1447" fill="none" stroke="#8ca8e0" stroke-width="3.6" stroke-linecap="butt"/>
<path d="M116.5,1744.5 C 90,1712 70,1690 76,1670 C 82,1640 106,1600 106,1568" fill="none" stroke="#8ca8e0" stroke-width="3.6" stroke-linecap="butt" stroke-dasharray="10 6"/>
<path d="M106,1568 Q103,1554 98,1543" fill="none" stroke="#8ca8e0" stroke-width="3.6" stroke-linecap="butt" marker-end="url(#mB)"/>
<path d="M121,1584.6 Q112,1570 106,1560" fill="none" stroke="#8ca8e0" stroke-width="3.6" stroke-linecap="butt"/>
<path d="M271.7,1631 Q230,1646 179,1640" fill="none" stroke="#8ca8e0" stroke-width="3.6" stroke-linecap="butt" marker-end="url(#mB)"/>
<path d="M400.6,1482 L400.6,1515 Q398,1555 377,1581" fill="none" stroke="#8ca8e0" stroke-width="3.6" stroke-linecap="butt" marker-end="url(#mB)"/>
<path d="M400.6,1515 Q408,1552 431,1573" fill="none" stroke="#8ca8e0" stroke-width="3.6" stroke-linecap="butt" marker-end="url(#mB)"/>
<path d="M357,1620 Q365,1630 371,1643.6" fill="none" stroke="#64b044" stroke-width="3.6" stroke-linecap="butt"/>
<path d="M431.7,1643.6 Q420,1720 428.6,1786" fill="none" stroke="#64b044" stroke-width="3.6" stroke-linecap="butt" marker-end="url(#mG)"/>
<path d="M399,1695 Q415,1710 420.8,1727.5" fill="none" stroke="#64b044" stroke-width="3.6" stroke-linecap="butt"/>
<path d="M637.6,1418.8 C 668,1470 668,1525 656,1574" fill="none" stroke="#64b044" stroke-width="3.6" stroke-linecap="butt" marker-end="url(#mG)"/>
<path d="M702.8,1485.6 Q680,1505 666,1530" fill="none" stroke="#64b044" stroke-width="3.6" stroke-linecap="butt"/>
<path d="M656,1582 C 678,1660 676,1740 657,1820" fill="none" stroke="#64b044" stroke-width="3.6" stroke-linecap="butt" stroke-dasharray="11 6" marker-end="url(#mG)"/>
<path d="M932.6,1344 Q930,1262 871,1229" fill="none" stroke="#8a8a8a" stroke-width="3.6" stroke-linecap="butt" marker-end="url(#mY)"/>
<text x="255.1" y="1226.8" font-size="35" font-weight="bold" fill="#000"><tspan>H</tspan><tspan font-size="23.3" dy="7.4">2</tspan><tspan dy="-7.4"></tspan><tspan>O</tspan></text>
<text x="462.6" y="1220" font-size="35" font-weight="bold" fill="#000"><tspan>H</tspan><tspan font-size="23.3" dy="7.4">2</tspan><tspan dy="-7.4"></tspan><tspan>O</tspan><tspan font-size="21" dy="-12">*</tspan><tspan dy="12"></tspan></text>
<text x="783.5" y="1236.2" font-size="35" font-weight="bold" fill="#000"><tspan>O</tspan><tspan font-size="23.3" dy="7.4">2</tspan><tspan dy="-7.4"></tspan></text>
<text x="692.4" y="1297.8" font-size="35" font-weight="bold" fill="#000"><tspan>OH</tspan><tspan font-size="21" dy="-12">*</tspan><tspan dy="12"></tspan></text>
<text x="289.8" y="1473" font-size="35" font-weight="bold" fill="#000"><tspan>H</tspan><tspan font-size="23.3" dy="7.4">2</tspan><tspan dy="-7.4"></tspan><tspan>O</tspan><tspan font-size="21" dy="-12">*</tspan><tspan dy="12"></tspan></text>
<text x="571.4" y="1419.4" font-size="35" font-weight="bold" fill="#000"><tspan>H</tspan><tspan font-size="21" dy="-12">*</tspan><tspan dy="12"></tspan></text>
<text x="928" y="1476.3" font-size="35" font-weight="bold" fill="#000"><tspan>O</tspan><tspan font-size="23.3" dy="7.4">2</tspan><tspan dy="-7.4"></tspan><tspan font-size="21" dy="-12">*</tspan><tspan dy="12"></tspan></text>
<text x="850.5" y="1540.6" font-size="35" font-weight="bold" fill="#000"><tspan>O</tspan><tspan font-size="21" dy="-12">*</tspan><tspan dy="12"></tspan></text>
<text x="13" y="1179" font-size="54" font-weight="bold" fill="#000">e</text>
<path d="M1017.6,1800.3 L1867,1847.2 L1995.2,1679.3 L1145.8,1632.4Z" fill="url(#gTopE)"/>
<path d="M1060,1803 L1330,1818 L1360,1770 L1090,1760Z" fill="#b58c85" opacity="0.35"/>
<path d="M1330,1818 L1560,1830 L1580,1790 L1350,1780Z" fill="#7fa09e" opacity="0.3"/>
<path d="M1850,1745 L1933,1727 L1945,1745 L1871,1850 L1800,1846 L1820,1780Z" fill="#957f7c"/>
<path d="M1017.6,1800.3 L1867,1847.2 L1867,1918.4 L1017.6,1875.7Z" fill="#8d8d8d"/>
<path d="M1867,1847.2 L1995.2,1679.3 L1995.2,1750 L1867,1918.4Z" fill="#bdbdbd"/>
<g clip-path="url(#clipF)">
<circle cx="1629" cy="1404" r="124" fill="url(#gT)" stroke="#86b4b4" stroke-width="1.6" stroke-opacity="0.7"/>
<circle cx="1224" cy="1439" r="115" fill="url(#gT)" stroke="#86b4b4" stroke-width="1.6" stroke-opacity="0.7"/>
<circle cx="1867" cy="1663" r="85" fill="url(#gP)" stroke="#e8998a" stroke-width="1.6" stroke-opacity="0.7"/>
<circle cx="1825" cy="1537" r="127" fill="url(#gT)" stroke="#86b4b4" stroke-width="1.6" stroke-opacity="0.7"/><ellipse cx="1813" cy="1460" rx="22" ry="18" fill="url(#gHT)"/>
<circle cx="1530" cy="1640" r="90" fill="url(#gP)" stroke="#e8998a" stroke-width="1.6" stroke-opacity="0.7"/>
<circle cx="1405" cy="1640" r="60" fill="url(#gP)" stroke="#e8998a" stroke-width="1.6" stroke-opacity="0.7"/>
<circle cx="1206" cy="1644" r="150" fill="url(#gP)" stroke="#e8998a" stroke-width="1.6" stroke-opacity="0.7"/>
<circle cx="1274" cy="1508" r="138" fill="url(#gP)" stroke="#e8998a" stroke-width="1.6" stroke-opacity="0.7" clip-path="url(#clipF3)"/><ellipse cx="1281" cy="1428" rx="22" ry="18" fill="url(#gH)"/>
<circle cx="1502" cy="1477" r="117" fill="url(#gT)" stroke="#86b4b4" stroke-width="1.6" stroke-opacity="0.7"/><ellipse cx="1500" cy="1400" rx="22" ry="18" fill="url(#gHT)"/>
<circle cx="1655" cy="1518" r="137" fill="url(#gP)" stroke="#e8998a" stroke-width="1.6" stroke-opacity="0.7"/><ellipse cx="1658" cy="1432" rx="22" ry="18" fill="url(#gH)"/>
<circle cx="1449" cy="1716" r="126" fill="url(#gT)" stroke="#86b4b4" stroke-width="1.6" stroke-opacity="0.7"/><ellipse cx="1455" cy="1645" rx="22" ry="18" fill="url(#gHT)"/>
<circle cx="1717" cy="1717" r="155" fill="url(#gP)" stroke="#e8998a" stroke-width="1.6" stroke-opacity="0.7"/>
</g>
<circle cx="1305.4" cy="1236" r="24.6" fill="url(#gB)"/><ellipse cx="1306.6" cy="1220.7" rx="3.2" ry="2.2" fill="#f4fbff" opacity="0.95"/>
<circle cx="1346.8" cy="1227" r="25" fill="url(#gB)"/><ellipse cx="1348.0" cy="1211.5" rx="3.2" ry="2.2" fill="#f4fbff" opacity="0.95"/>
<circle cx="1113.9" cy="1337" r="12" fill="url(#gG)"/><ellipse cx="1114.5" cy="1329.6" rx="1.6" ry="1.2" fill="#f4fbff" opacity="0.95"/>
<circle cx="1085.4" cy="1374.6" r="12" fill="url(#gG)"/><ellipse cx="1086.0" cy="1367.2" rx="1.6" ry="1.2" fill="#f4fbff" opacity="0.95"/>
<circle cx="1117.8" cy="1370.7" r="25" fill="url(#gB)"/><ellipse cx="1119.0" cy="1355.2" rx="3.2" ry="2.2" fill="#f4fbff" opacity="0.95"/>
<circle cx="1243.3" cy="1360.3" r="12" fill="url(#gG)"/><ellipse cx="1243.9" cy="1352.9" rx="1.6" ry="1.2" fill="#f4fbff" opacity="0.95"/>
<circle cx="1199.3" cy="1471.6" r="12" fill="url(#gG)"/><ellipse cx="1199.9" cy="1464.2" rx="1.6" ry="1.2" fill="#f4fbff" opacity="0.95"/>
<circle cx="1231.6" cy="1467.7" r="26" fill="url(#gB)"/><ellipse cx="1232.9" cy="1451.6" rx="3.4" ry="2.3" fill="#f4fbff" opacity="0.95"/>
<circle cx="1362.3" cy="1520.8" r="26" fill="url(#gB)"/><ellipse cx="1363.6" cy="1504.7" rx="3.4" ry="2.3" fill="#f4fbff" opacity="0.95"/>
<circle cx="1467" cy="1386" r="25" fill="url(#gB)"/><ellipse cx="1468.2" cy="1370.5" rx="3.2" ry="2.2" fill="#f4fbff" opacity="0.95"/>
<circle cx="1430.9" cy="1405.6" r="25" fill="url(#gB)"/><ellipse cx="1432.2" cy="1390.1" rx="3.2" ry="2.2" fill="#f4fbff" opacity="0.95"/>
<circle cx="1247.7" cy="1579.6" r="12.5" fill="url(#gG)"/><ellipse cx="1248.3" cy="1571.8" rx="1.6" ry="1.2" fill="#f4fbff" opacity="0.95"/>
<circle cx="1569.6" cy="1249.6" r="26" fill="url(#gB)"/><ellipse cx="1570.9" cy="1233.5" rx="3.4" ry="2.3" fill="#f4fbff" opacity="0.95"/>
<circle cx="1598" cy="1278" r="26" fill="url(#gB)"/><ellipse cx="1599.3" cy="1261.9" rx="3.4" ry="2.3" fill="#f4fbff" opacity="0.95"/>
<circle cx="1799.6" cy="1243.9" r="12" fill="url(#gG)"/><ellipse cx="1800.2" cy="1236.5" rx="1.6" ry="1.2" fill="#f4fbff" opacity="0.95"/>
<circle cx="1840" cy="1268" r="12" fill="url(#gG)"/><ellipse cx="1840.6" cy="1260.6" rx="1.6" ry="1.2" fill="#f4fbff" opacity="0.95"/>
<circle cx="1808.7" cy="1276.6" r="26" fill="url(#gB)"/><ellipse cx="1810.0" cy="1260.5" rx="3.4" ry="2.3" fill="#f4fbff" opacity="0.95"/>
<circle cx="1864.2" cy="1417.5" r="12" fill="url(#gG)"/><ellipse cx="1864.8" cy="1410.1" rx="1.6" ry="1.2" fill="#f4fbff" opacity="0.95"/>
<circle cx="1860" cy="1463" r="12" fill="url(#gG)"/><ellipse cx="1860.6" cy="1455.6" rx="1.6" ry="1.2" fill="#f4fbff" opacity="0.95"/>
<circle cx="1840" cy="1438.9" r="26" fill="url(#gB)"/><ellipse cx="1841.3" cy="1422.8" rx="3.4" ry="2.3" fill="#f4fbff" opacity="0.95"/>
<circle cx="1572.4" cy="1494.4" r="26" fill="url(#gB)"/><ellipse cx="1573.7" cy="1478.3" rx="3.4" ry="2.3" fill="#f4fbff" opacity="0.95"/>
<circle cx="1763" cy="1527" r="12" fill="url(#gG)"/><ellipse cx="1763.6" cy="1519.6" rx="1.6" ry="1.2" fill="#f4fbff" opacity="0.95"/>
<circle cx="1727.5" cy="1528.5" r="26" fill="url(#gB)"/><ellipse cx="1728.8" cy="1512.4" rx="3.4" ry="2.3" fill="#f4fbff" opacity="0.95"/>
<circle cx="1635" cy="1638" r="12.5" fill="url(#gG)"/><ellipse cx="1635.6" cy="1630.2" rx="1.6" ry="1.2" fill="#f4fbff" opacity="0.95"/>
<circle cx="1865.6" cy="1562.6" r="12.5" fill="url(#gG)"/><ellipse cx="1866.2" cy="1554.8" rx="1.6" ry="1.2" fill="#f4fbff" opacity="0.95"/>
<path d="M1349.4,1269.7 Q1375,1332 1417,1370" fill="none" stroke="#f4a46c" stroke-width="3.6" stroke-linecap="butt" marker-end="url(#mO)"/>
<path d="M1226.4,1379.7 Q1190,1396 1152,1389" fill="none" stroke="#8ca8e0" stroke-width="3.6" stroke-linecap="butt" marker-end="url(#mB)"/>
<path d="M1220,1439 Q1205,1415 1188,1402" fill="none" stroke="#8ca8e0" stroke-width="3.6" stroke-linecap="butt"/>
<path d="M1317,1540.2 Q1265,1535 1229,1503" fill="none" stroke="#8ca8e0" stroke-width="3.6" stroke-linecap="butt" marker-end="url(#mB)"/>
<path d="M1251,1559.6 Q1250,1535 1238,1518" fill="none" stroke="#8ca8e0" stroke-width="3.6" stroke-linecap="butt"/>
<path d="M1468,1430 Q1478,1448 1481,1462 Q1470,1500 1419,1512" fill="none" stroke="#8ca8e0" stroke-width="3.6" stroke-linecap="butt" marker-end="url(#mB)"/>
<path d="M1481,1462 Q1498,1482 1523,1489" fill="none" stroke="#8ca8e0" stroke-width="3.6" stroke-linecap="butt" marker-end="url(#mB)"/>
<path d="M1598,1522.7 Q1640,1535 1669,1549.7" fill="none" stroke="#8ca8e0" stroke-width="3.6" stroke-linecap="butt"/>
<path d="M1633.6,1618 Q1640,1560 1692,1536" fill="none" stroke="#8ca8e0" stroke-width="3.6" stroke-linecap="butt" marker-end="url(#mB)"/>
<path d="M1783,1528.4 Q1810,1510 1831.5,1495.7" fill="none" stroke="#8ca8e0" stroke-width="3.6" stroke-linecap="butt"/>
<path d="M1844,1545.5 Q1830,1520 1831.5,1482" fill="none" stroke="#8ca8e0" stroke-width="3.6" stroke-linecap="butt" marker-end="url(#mB)"/>
<path d="M1186.5,1783 C 1195,1700 1150,1650 1168,1622 Q1185,1595 1220,1590" fill="none" stroke="#64b044" stroke-width="3.6" stroke-linecap="butt" marker-end="url(#mG)"/>
<path d="M1727.5,1827.3 C 1690,1790 1692,1765 1698,1730 C 1705,1690 1700,1668 1655,1654" fill="none" stroke="#64b044" stroke-width="3.6" stroke-linecap="butt" stroke-dasharray="11 6" marker-end="url(#mG)"/>
<path d="M1854.2,1389 Q1880,1335 1848,1297" fill="none" stroke="#8a8a8a" stroke-width="3.6" stroke-linecap="butt" marker-end="url(#mY)"/>
<text x="1298.7" y="1291.7" font-size="35" font-weight="bold" fill="#000"><tspan>O</tspan><tspan font-size="23.3" dy="7.4">2</tspan><tspan dy="-7.4"></tspan></text>
<text x="1863" y="1292.3" font-size="35" font-weight="bold" fill="#000"><tspan>H</tspan><tspan font-size="23.3" dy="7.4">2</tspan><tspan dy="-7.4"></tspan><tspan>O</tspan></text>
<text x="1063.4" y="1431.5" font-size="35" font-weight="bold" fill="#000"><tspan>H</tspan><tspan font-size="23.3" dy="7.4">2</tspan><tspan dy="-7.4"></tspan><tspan>O</tspan><tspan font-size="21" dy="-12">*</tspan><tspan dy="12"></tspan></text>
<text x="1498.3" y="1416" font-size="35" font-weight="bold" fill="#000"><tspan>O</tspan><tspan font-size="23.3" dy="7.4">2</tspan><tspan dy="-7.4"></tspan><tspan font-size="21" dy="-12">*</tspan><tspan dy="12"></tspan></text>
<text x="1892.9" y="1468.7" font-size="35" font-weight="bold" fill="#000"><tspan>H</tspan><tspan font-size="23.3" dy="7.4">2</tspan><tspan dy="-7.4"></tspan><tspan>O</tspan><tspan font-size="21" dy="-12">*</tspan><tspan dy="12"></tspan></text>
<text x="1690.5" y="1502.9" font-size="35" font-weight="bold" fill="#000"><tspan>OH</tspan><tspan font-size="21" dy="-12">*</tspan><tspan dy="12"></tspan></text>
<text x="1558.1" y="1559.2" font-size="35" font-weight="bold" fill="#000"><tspan>O</tspan><tspan font-size="21" dy="-12">*</tspan><tspan dy="12"></tspan></text>
<text x="1365.7" y="1578.2" font-size="35" font-weight="bold" fill="#000"><tspan>O</tspan><tspan font-size="21" dy="-12">*</tspan><tspan dy="12"></tspan></text>
<text x="1658.1" y="1640.8" font-size="35" font-weight="bold" fill="#000"><tspan>H</tspan><tspan font-size="21" dy="-12">*</tspan><tspan dy="12"></tspan></text>
<text x="1868.1" y="1605.3" font-size="35" font-weight="bold" fill="#000"><tspan>H</tspan><tspan font-size="21" dy="-12">*</tspan><tspan dy="12"></tspan></text>
<text x="1017" y="1189" font-size="54" font-weight="bold" fill="#000">f</text>
</svg>
</body></html>
